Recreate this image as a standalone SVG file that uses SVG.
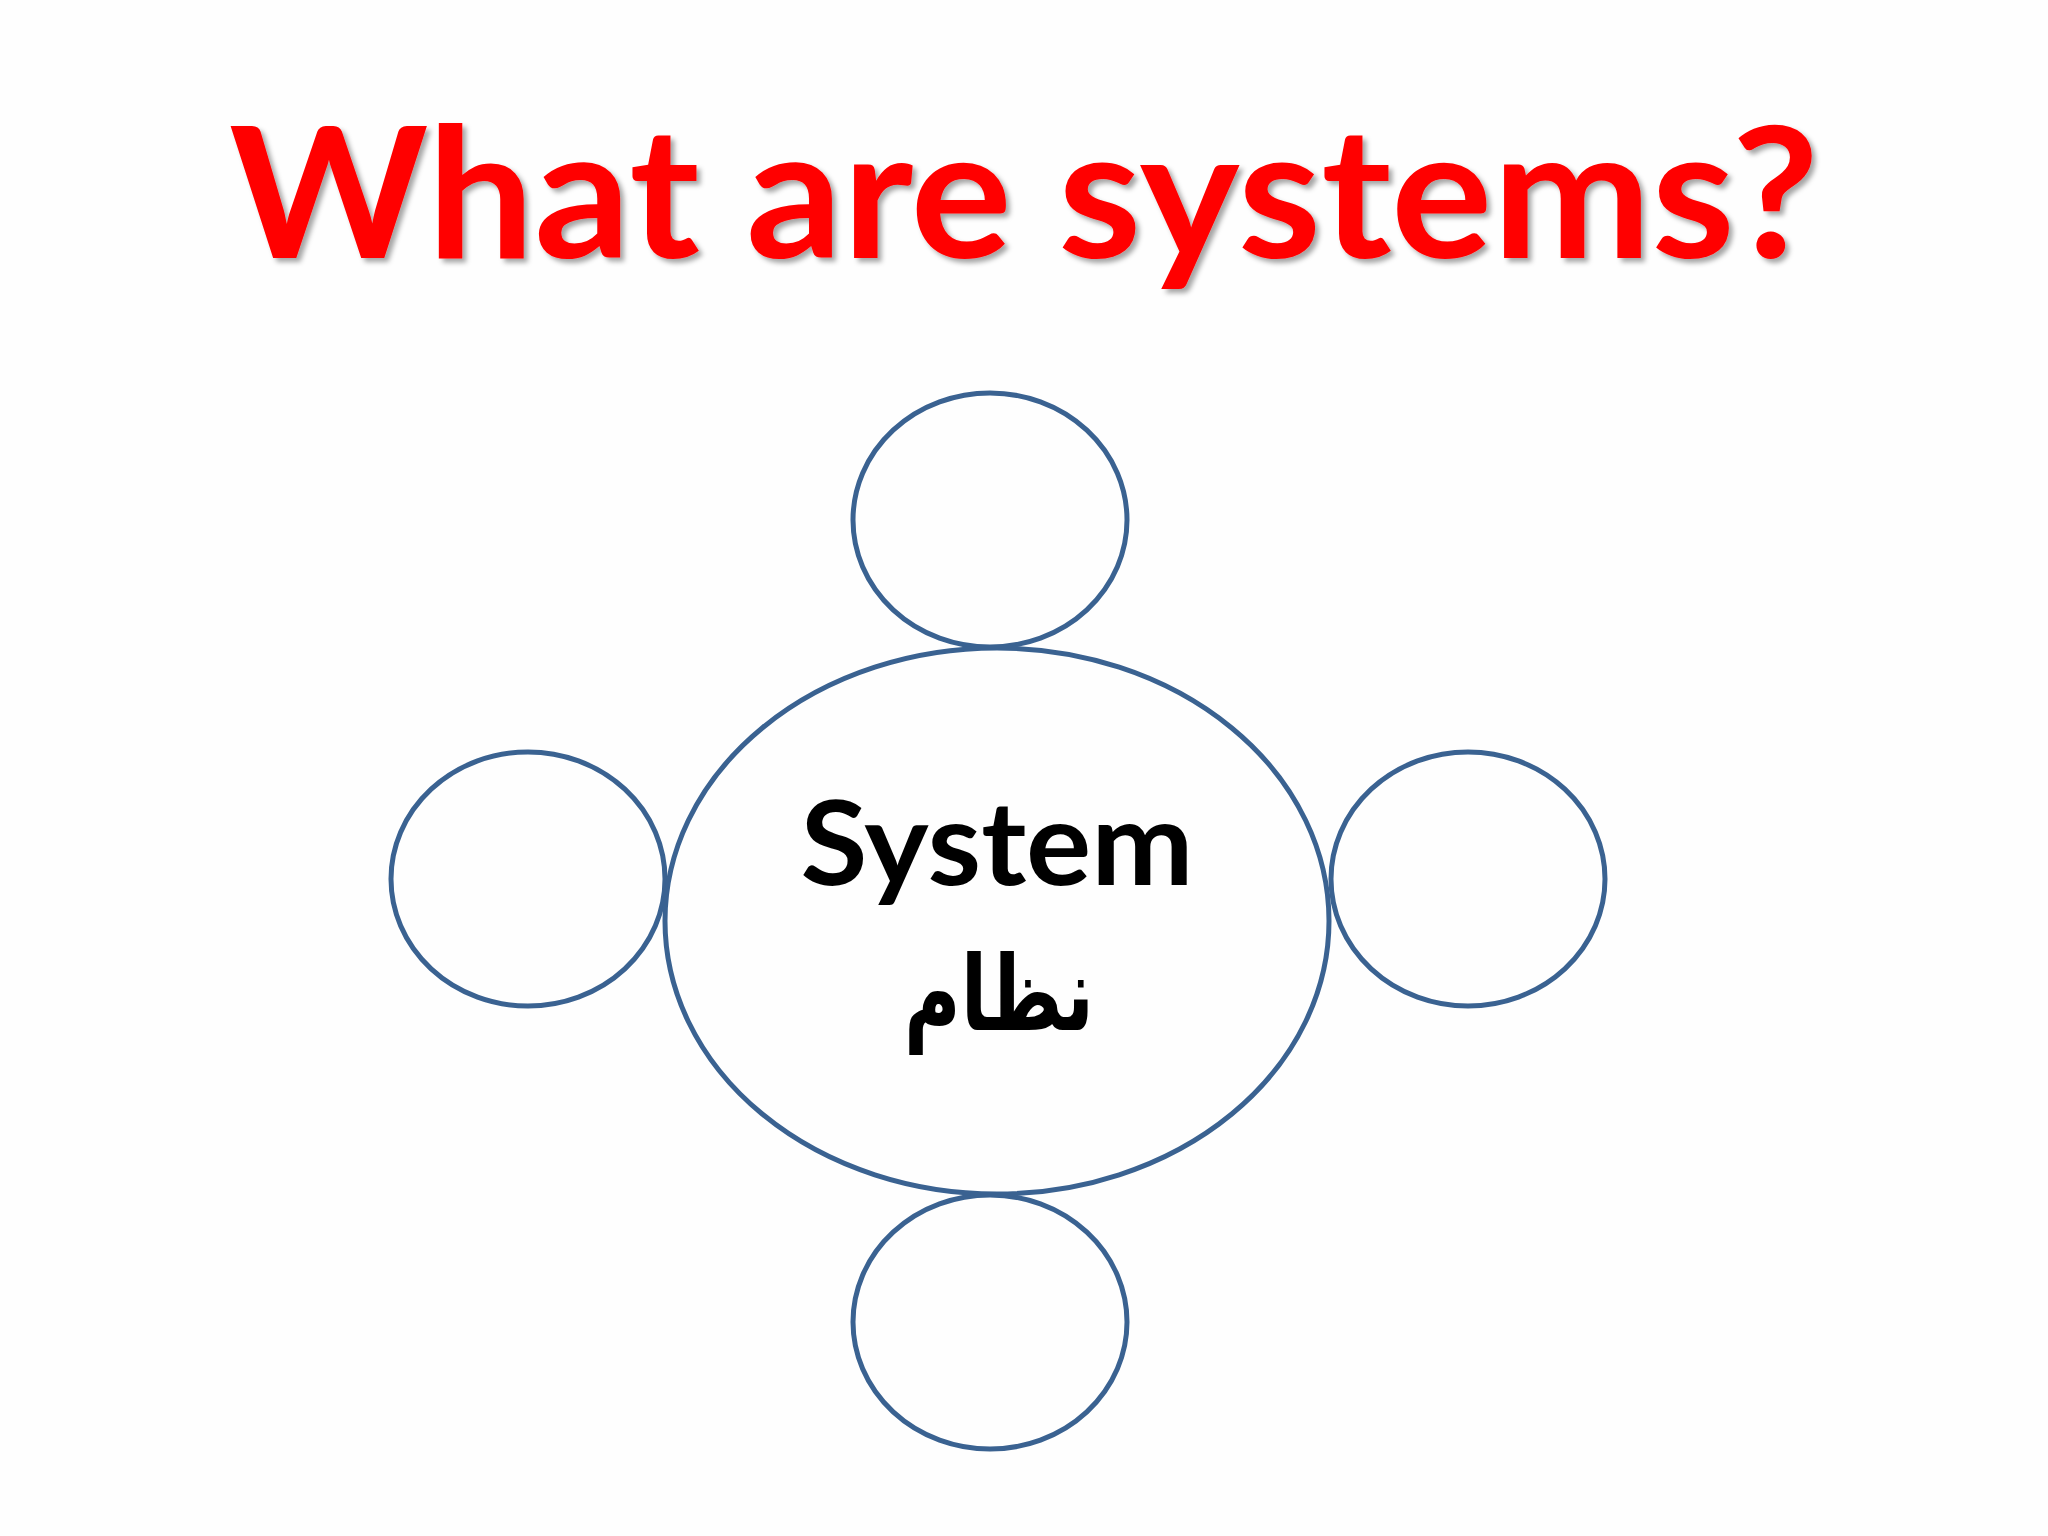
<svg xmlns="http://www.w3.org/2000/svg" width="2048" height="1536" viewBox="0 0 2048 1536">
<defs>
<filter id="shadow" x="-5%" y="-5%" width="110%" height="120%">
<feGaussianBlur in="SourceAlpha" stdDeviation="2.5"/>
<feOffset dx="4" dy="4" result="b"/>
<feFlood flood-color="#000" flood-opacity="0.35"/>
<feComposite in2="b" operator="in"/>
<feMerge><feMergeNode/><feMergeNode in="SourceGraphic"/></feMerge>
</filter>
</defs>
<style>
.node{fill:none;stroke:#3A6291;stroke-width:5}
.title{font-family:Lato,"Open Sans","Liberation Sans",sans-serif;font-weight:bold;font-size:182px;fill:#FF0000}
.label{font-family:Lato,"Open Sans","Liberation Sans",sans-serif;font-weight:bold;font-size:116px;fill:#000}
.ar{font-family:"DejaVu Sans","Noto Sans",sans-serif;font-weight:bold;font-size:104px;fill:#000}
</style>
<rect width="2048" height="1536" fill="#FEFEFE"/>
<text class="title" x="229" y="258" textLength="1590" lengthAdjust="spacingAndGlyphs" filter="url(#shadow)">What are systems?</text>
<g id="connectors"/>
<g id="node-top"><ellipse class="node" cx="990" cy="520" rx="137" ry="127"/></g>
<g id="node-left"><ellipse class="node" cx="528" cy="879" rx="137" ry="127"/></g>
<g id="node-right"><ellipse class="node" cx="1468" cy="879" rx="137" ry="127"/></g>
<g id="node-bottom"><ellipse class="node" cx="990" cy="1322" rx="137" ry="127"/></g>
<g id="node-system">
<ellipse class="node" cx="997" cy="921" rx="332" ry="273"/>
<text class="label" x="997" y="885" text-anchor="middle" textLength="393" lengthAdjust="spacingAndGlyphs">System</text>
<text class="ar" x="999" y="1030" text-anchor="middle" direction="rtl" textLength="190" lengthAdjust="spacingAndGlyphs">نظام</text>
</g>
</svg>
